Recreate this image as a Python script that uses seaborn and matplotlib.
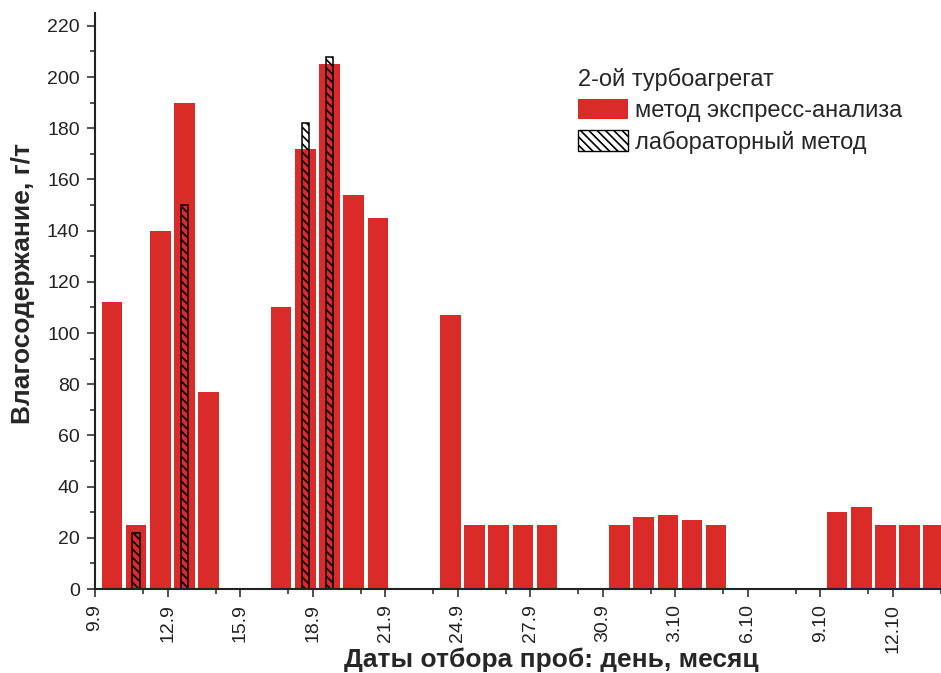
import numpy as np
import pandas as pd
import matplotlib
matplotlib.use('Agg')
import matplotlib.pyplot as plt
import seaborn as sns
from matplotlib.patches import Patch
from matplotlib.ticker import MultipleLocator, FixedLocator

# даты отбора проб (по дням)
dates = ['9.9', '10.9', '11.9', '12.9', '13.9', '14.9', '15.9', '16.9', '17.9',
         '18.9', '19.9', '20.9', '21.9', '22.9', '23.9', '24.9', '25.9', '26.9',
         '27.9', '28.9', '29.9', '30.9', '1.10', '2.10', '3.10', '4.10', '5.10',
         '6.10', '7.10', '8.10', '9.10', '10.10', '11.10', '12.10', '13.10']
nan = np.nan
# метод экспресс-анализа, г/т
express = [112, 25, 140, 190, 77, nan, nan, 110, 172, 205, 154, 145, nan, nan,
           107, 25, 25, 25, 25, nan, nan, 25, 28, 29, 27, 25, nan, nan, nan, nan,
           30, 32, 25, 25, 25]
# лабораторный метод, г/т
lab = [nan, 22, nan, 150, nan, nan, nan, nan, 182, 208, nan, nan, nan, nan,
       nan, nan, nan, nan, nan, nan, nan, nan, nan, nan, nan, nan, nan, nan,
       nan, nan, nan, nan, nan, nan, nan]

legend_title = '2-ой турбоагрегат'
series_names = ['метод экспресс-анализа', 'лабораторный метод']

red = '#DB2B29'

sns.set_style('ticks')
plt.rcParams['font.family'] = ['Liberation Sans', 'DejaVu Sans']
plt.rcParams['hatch.linewidth'] = 1.2
plt.rcParams['axes.edgecolor'] = '#222222'

df = pd.DataFrame({'day': np.arange(len(dates)) + 0.7, 'express': express, 'lab': lab})

fig = plt.figure(figsize=(9.41, 6.73), dpi=100)
ax = fig.add_axes([95 / 941, 84 / 673, 846 / 941, 576 / 673])

sns.barplot(data=df.dropna(subset=['express']), x='day', y='express', native_scale=True,
            color=red, width=0.85, errorbar=None, linewidth=0, saturation=1, ax=ax)
sns.barplot(data=df.dropna(subset=['lab']), x='day', y='lab', native_scale=True,
            width=0.3, errorbar=None, facecolor='none', edgecolor='black',
            hatch='\\\\\\\\', linewidth=1.1, ax=ax)

ax.set_xlim(0, 35)
ax.set_ylim(0, 225)
major = np.arange(0, len(dates), 3)
ax.xaxis.set_major_locator(FixedLocator(major))
ax.set_xticklabels([dates[i] for i in major], rotation=90)
ax.xaxis.set_minor_locator(FixedLocator(major + 2))
ax.yaxis.set_major_locator(MultipleLocator(20))
ax.yaxis.set_minor_locator(FixedLocator(np.arange(10, 225, 20)))

ax.tick_params(which='major', length=6, width=1.1, labelsize=14, pad=5, colors='#222222')
ax.tick_params(which='minor', length=3.5, width=1.1, colors='#222222')
for s in ['left', 'bottom']:
    ax.spines[s].set_linewidth(1.5)
sns.despine(ax=ax)

ax.set_xlabel('Даты отбора проб: день, месяц', fontsize=19, fontweight='bold')
ax.set_ylabel('Влагосодержание, г/т', fontsize=19, fontweight='bold')
ax.xaxis.set_label_coords(0.539, -0.102)
ax.yaxis.set_label_coords(-0.071, 0.53)

handles = [Patch(facecolor=red, edgecolor='none'),
           Patch(facecolor='white', edgecolor='black', hatch='\\\\\\\\', linewidth=1.0)]
leg = ax.legend(handles, series_names, title=legend_title, loc='upper left',
                bbox_to_anchor=(569 / 941, 1 - 58 / 673), bbox_transform=fig.transFigure,
                frameon=False, fontsize=17, title_fontsize=17, alignment='left',
                handlelength=2.1, handleheight=0.95, handletextpad=0.3,
                labelspacing=0.35, borderaxespad=0)

fig.savefig('out.png', dpi=100)
